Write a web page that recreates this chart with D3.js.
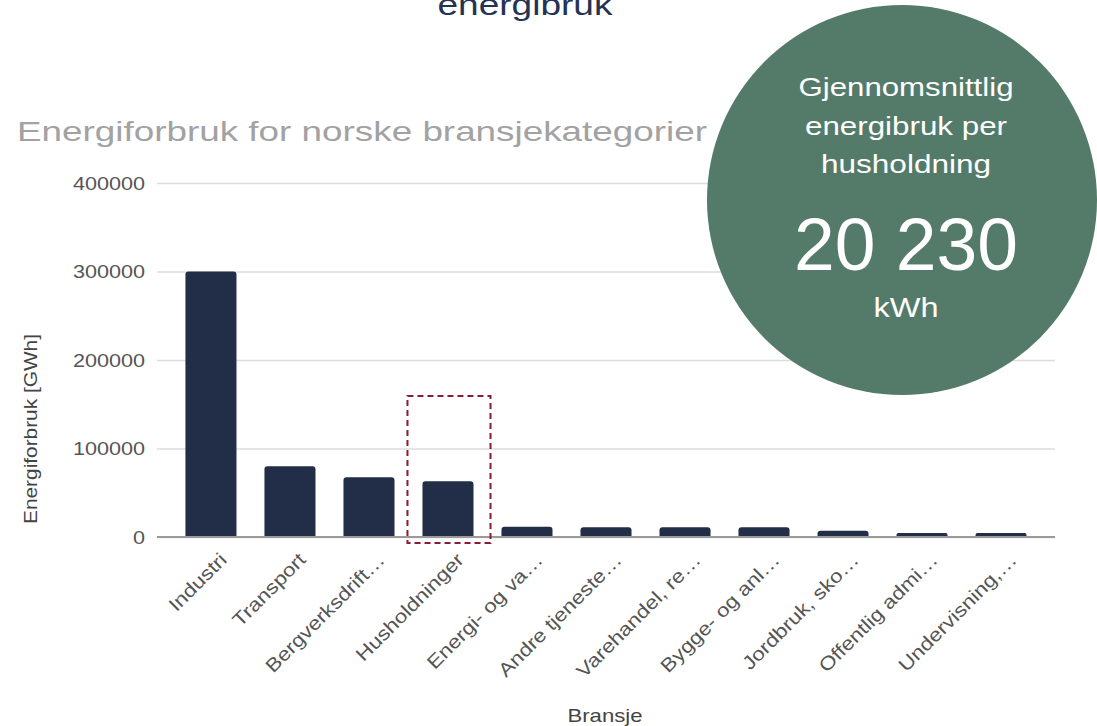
<!DOCTYPE html>
<html>
<head>
<meta charset="utf-8">
<script src="https://cdn.jsdelivr.net/npm/d3@7"></script>
<style>
  body { margin: 0; background: #fff; }
  text { font-family: "Liberation Sans", Arial, sans-serif; }
</style>
</head>
<body>
<svg id="chart" width="1097" height="726"></svg>
<script>
// data
const categories = ["Industri", "Transport", "Bergverksdrift…", "Husholdninger", "Energi- og va…",
  "Andre tjeneste…", "Varehandel, re…", "Bygge- og anl…", "Jordbruk, sko…", "Offentlig admi…", "Undervisning,…"];
const values = [300000, 80000, 67500, 63000, 11500, 11000, 11000, 11000, 7000, 4500, 4500];
const yTicks = [0, 100000, 200000, 300000, 400000];
const highlighted = "Husholdninger";
const circleLines = ["Gjennomsnittlig", "energibruk per", "husholdning"];
const circleValue = "20 230";
const circleUnit = "kWh";

const svg = d3.select("#chart");
const margin = { top: 183, right: 42, bottom: 189, left: 157 },
    width = 1097 - margin.left - margin.right,
    height = 726 - margin.top - margin.bottom;

// stretch text along its baseline to match the wider font in the picture
const stretch = (sel, k) => sel.each(function() {
  const len = this.getComputedTextLength();
  d3.select(this).attr("textLength", len * k).attr("lengthAdjust", "spacingAndGlyphs");
});
const fitTo = (sel, w) => sel.attr("textLength", w).attr("lengthAdjust", "spacingAndGlyphs");

const x = d3.scaleBand()
    .domain(categories)
    .range([0, width])
    .paddingInner(0.354)
    .paddingOuter(0.36);
const y = d3.scaleLinear().domain([0, 400000]).range([height, 0]);

// heading (cut at the top of the picture)
svg.append("text")
    .attr("x", 525).attr("y", 15)
    .attr("text-anchor", "middle")
    .style("font-size", "30px")
    .style("fill", "#253352")
    .text("energibruk")
    .call(fitTo, 175);

svg.append("text")
    .attr("x", 17).attr("y", 141)
    .style("font-size", "28px")
    .style("fill", "#a2a2a2")
    .text("Energiforbruk for norske bransjekategorier")
    .call(fitTo, 690);

const g = svg.append("g").attr("transform", `translate(${margin.left},${margin.top})`);

// grid + y labels
const yAxis = g.append("g")
    .call(d3.axisLeft(y).tickValues(yTicks).tickSize(-width).tickPadding(12).tickFormat(d3.format("d")));
yAxis.select(".domain").remove();
yAxis.selectAll(".tick line").attr("stroke", "#dcdcdc").attr("stroke-width", 1.5);
yAxis.selectAll(".tick text")
    .style("font-size", "18px")
    .style("fill", "#555")
    .attr("dy", "0.36em")
    .call(stretch, 1.2);

// bars with rounded tops
const r = 3;
g.selectAll(".bar")
    .data(values)
    .enter()
    .append("path")
    .attr("class", "bar")
    .attr("fill", "#222e47")
    .attr("d", (d, i) => {
      const x0 = x(categories[i]), w = x.bandwidth(), y0 = y(d), y1 = y(0);
      const rr = Math.min(r, (y1 - y0) / 2);
      return `M${x0},${y1}V${y0 + rr}Q${x0},${y0} ${x0 + rr},${y0}H${x0 + w - rr}Q${x0 + w},${y0} ${x0 + w},${y0 + rr}V${y1}Z`;
    });

// baseline
g.append("line")
    .attr("x1", 0).attr("x2", width)
    .attr("y1", y(0)).attr("y2", y(0))
    .attr("stroke", "#9a9a9a").attr("stroke-width", 2);

// x labels
g.selectAll(".xlabel")
    .data(categories)
    .enter()
    .append("text")
    .attr("class", "xlabel")
    .attr("text-anchor", "end")
    .attr("transform", d => `translate(${x(d) + x.bandwidth() / 2 + 17},${y(0) + 24}) rotate(-45)`)
    .style("font-size", "19px")
    .style("fill", "#555")
    .text(d => d)
    .call(stretch, 1.17);

// highlight box round Husholdninger
const hx = x(highlighted);
g.append("rect")
    .attr("x", hx - 15).attr("y", y(0) - 141)
    .attr("width", x.bandwidth() + 32).attr("height", 147)
    .attr("fill", "none")
    .attr("stroke", "#8b1a32").attr("stroke-width", 2)
    .attr("stroke-dasharray", "6,4");

// axis titles
svg.append("text")
    .attr("transform", "translate(37,429) rotate(-90)")
    .attr("text-anchor", "middle")
    .style("font-size", "19px")
    .style("fill", "#444")
    .text("Energiforbruk [GWh]")
    .call(fitTo, 190);

svg.append("text")
    .attr("x", 605).attr("y", 722)
    .attr("text-anchor", "middle")
    .style("font-size", "19px")
    .style("fill", "#444")
    .text("Bransje")
    .call(fitTo, 75);

// callout circle
const cx = 902, cy = 200;
svg.append("circle")
    .attr("cx", cx).attr("cy", cy).attr("r", 195)
    .attr("fill", "#547b69");

const lineWidths = [215, 202, 170];
svg.selectAll(".cline")
    .data(circleLines)
    .enter()
    .append("text")
    .attr("class", "cline")
    .attr("x", 906)
    .attr("y", (d, i) => 96 + i * 38.5)
    .attr("text-anchor", "middle")
    .style("font-size", "26px")
    .style("fill", "#fff")
    .text(d => d)
    .each(function(d, i) { d3.select(this).call(fitTo, lineWidths[i]); });

svg.append("text")
    .attr("x", 906).attr("y", 270)
    .attr("text-anchor", "middle")
    .style("font-size", "74px")
    .style("fill", "#fff")
    .text(circleValue)
    .call(fitTo, 224);

svg.append("text")
    .attr("x", 906).attr("y", 317)
    .attr("text-anchor", "middle")
    .style("font-size", "28px")
    .style("fill", "#fff")
    .text(circleUnit)
    .call(fitTo, 65);
</script>
</body>
</html>
